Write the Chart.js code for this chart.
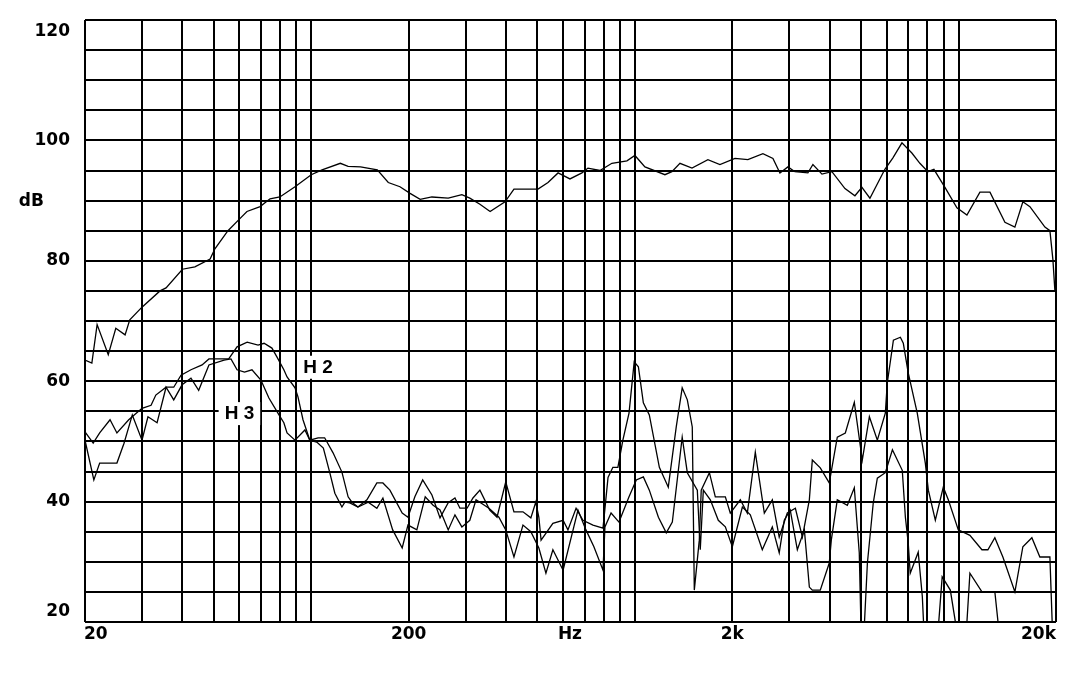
<!DOCTYPE html>
<html lang="en">
<head>
<meta charset="UTF-8">
<title>Frequency response with H2 / H3</title>
<style>
    html, body { margin: 0; padding: 0; background: #fff; }
    #wrap { width: 1077px; height: 678px; position: relative; }
</style>
</head>
<body>
<div id="wrap"><canvas id="myChart"></canvas></div>
<script src="https://cdn.jsdelivr.net/npm/chart.js"></script>
<script>
// SPL curve
const splHz = [20,21,21.8,23.6,24.9,26.6,27.5,30,34.1,35.6,40,43.7,48.7,50.4,55.3,60.2,63.3,69.5,74.6,80,
    89.1,100,108,123,130,142,160,173,188,202,217,236,265,292,309,332,357,397,423,502,
    539,579,630,686,716,780,849,945,1000,1074,1238,1301,1378,1501,1681,1831,2038,2234,2486,2670,
    2806,2970,3122,3424,3548,3784,4062,4457,4784,5028,5323,5920,6269,6684,7173,7594,8042,8392,9076,9884,
    10613,11641,12503,13906,14928,15802,16612,18483,19152,19564,19845];
const splDb = [63.5,63,69.4,64.4,68.8,67.7,70.2,72.3,75,75.5,78.6,79,80.3,82,85,87,88.2,89,90.3,90.6,
    92.3,94.3,95.1,96.2,95.7,95.6,95.1,93,92.3,91.2,90.2,90.6,90.4,91,90.4,89.4,88.2,89.8,91.9,91.9,
    93,94.6,93.6,94.6,95.4,95,96.2,96.6,97.5,95.6,94.3,94.8,96.2,95.4,96.8,96,97,96.8,97.8,97,
    94.6,95.6,94.8,94.6,96,94.4,94.8,92,90.8,92.2,90.4,95.2,97.1,99.6,97.9,96.2,94.8,95.2,92.2,88.8,
    87.6,91.4,91.4,86.4,85.6,89.8,89,85.6,85,80.2,75];

// 2nd harmonic
const h2Hz = [20,21.2,22.2,23.9,25.1,27.3,30,32,33.1,35.6,37.6,39.6,42.5,46,48.3,55.6,59,63.4,68.5,71.5,
    75.6,78.4,82.3,84.2,89.1,91,94.3,99,105,110,116.8,124.4,130,133.6,139.4,148.6,159.5,166.5,175,191,
    199,209,221,236,250,265,278,288,303,316,332,356,375,399,423,451,477,494,505,513,
    558,600,621,658,691,742,797,826,855,886,918,959,995,1025,1062,1108,1190,1268,1342,1400,
    1452,1504,1526,1581,1603,1699,1772,1903,1971,2117,2225,2355,2511,2658,2792,2957,3132,3292,3459,3533,
    3739,3986,4220,4468,4763,5041,5302,5611,5939,6022,6290,6610,6750,6990,7454,7894,8065,8476,8970,9296,
    9980,10840,11808,12319,12945,13706,14930,15800,16845,17833,19150,19550,20000];
const h2Db = [51.6,49.7,51.4,53.6,51.4,53.6,55.5,56,57.7,59,59,61,61.9,62.7,63.7,63.7,65.7,66.5,66,66.3,
    65.5,64,61.9,60.7,58.9,57.4,53.6,50.2,50.6,50.6,48.1,44.9,40.8,39.9,39.1,40.3,43.1,43.1,41.9,38.1,
    37.4,40.8,43.6,41.1,37.3,39.8,40.6,38.9,38.9,40.6,41.9,38.6,37.4,43.3,38.3,38.3,37.3,39.9,37.4,33.6,
    36.4,36.9,35.3,38.9,36.9,36.1,35.6,44,45.7,45.7,50.2,54.7,63.2,62.4,56.4,54.4,45.7,42.4,52.4,58.9,
    56.9,52.4,25.3,33.6,41.9,44.8,40.8,40.8,38.1,40.3,38.1,48.2,38.1,40.3,34.1,38.1,38.9,34.1,40.3,46.9,
    45.6,43.1,50.7,51.4,56.5,46.9,54.1,50.2,54.7,59.7,66.8,67.3,66.3,61.4,54.7,46.4,41.9,36.9,42.4,40.3,
    35.3,34.4,32,32,34,30.8,25,32.5,34,30.8,30.8,17,17];

// 3rd harmonic
const h3Hz = [20,21.3,22.2,25.1,26.4,28,30,31.3,33.4,35.6,37.6,39.9,42.5,44.9,48.3,53.8,56.5,59,62.2,65.6,
    69.9,74,79.5,82.3,84.2,89.1,95.6,99,104,109,114,118.3,124.4,127,131.6,139.4,150,159.5,166.5,178.5,
    191,199,212,225,238,250,265,278,292,309,323,354,380,399,423,451,477,505,531,558,
    600,667,706,747,797,808,844,893,959,1010,1062,1108,1182,1250,1305,1400,1452,1559,1592,1627,
    1710,1810,1903,2000,2148,2273,2475,2658,2792,2894,3020,3176,3339,3459,3533,3739,3986,4044,4220,4532,
    4763,4934,5005,5100,5228,5451,5611,5939,6246,6700,6850,6990,7090,7505,7728,7840,8600,8900,9430,9980,
    10530,10840,11810,12945,13420,20000];
const h3Db = [50.2,43.6,46.4,46.4,49.7,54.4,50.2,54.1,53.1,59,56.9,59.4,60.5,58.5,62.7,63.5,63.7,61.9,61.5,61.9,
    60.2,57.2,54.4,53.1,51.4,50.2,51.9,50.2,49.9,48.9,44.9,41.4,39.1,39.9,39.8,39.1,39.9,38.9,40.6,35.3,
    32.3,36.1,35.3,40.8,39.4,38.6,35.3,37.8,35.8,36.9,40.3,38.9,37.4,35.3,30.8,36.1,35,32.3,28.1,32,
    28.6,38.6,35.3,32.5,28.6,35.8,38.1,36.6,40.8,43.6,44.1,41.9,37.4,34.8,36.6,50.7,44.8,41.9,32,41.9,
    40.3,36.9,35.8,32.5,39.1,37.8,32,35.8,31.5,36.9,38.6,32,35.3,25.8,25.3,25.3,29.8,33.6,40.3,39.4,
    42.3,31.5,17,18,29.8,39.8,43.9,44.8,48.6,45.2,37.4,33.1,28.1,31.6,24.2,17,17,27.5,25.3,17,
    17,28.1,25,25,17,17];

// axes
const gridHz = [20,30,40,50,60,70,80,90,100,200,300,400,500,600,700,800,900,
    1000,2000,3000,4000,5000,6000,7000,8000,9000,10000,20000];
const yTickDb = [20,40,60,80,100,120];
const xTickHz = [20,200,630,2000,20000];
const xTickText = ['20','200','Hz','2k','20k'];
// curve names: text, Hz, dB
const curveLabels = [['H 2',105,62.4],['H 3',60,54.7]];

function pairs(xs, ys) {
    return xs.map(function (v, i) { return { x: v, y: ys[i] }; });
}

const lineStyle = {
    borderColor: '#000',
    borderWidth: 1.3,
    pointRadius: 0,
    tension: 0,
    fill: false
};

// axis texts and the boxed H2/H3 names
const labelPlugin = {
    id: 'labels',
    afterDraw(chart) {
        const c = chart.ctx;
        const sx = chart.scales.x, sy = chart.scales.y;
        const area = chart.chartArea;
        c.save();
        c.fillStyle = '#000';
        c.font = 'bold 17px "DejaVu Sans"';
        c.textBaseline = 'middle';
        c.textAlign = 'right';
        yTickDb.forEach(function (v) {
            let py = sy.getPixelForValue(v);
            py = Math.min(Math.max(py, area.top + 12), area.bottom - 10);
            c.fillText(String(v), 70, py);
        });
        c.fillText('dB', 44, sy.getPixelForValue(90) + 1);
        xTickHz.forEach(function (v, i) {
            const px = sx.getPixelForValue(v);
            c.textAlign = i === 0 ? 'left' : (i === xTickHz.length - 1 ? 'right' : 'center');
            c.fillText(xTickText[i], i === 0 ? px - 1 : px, area.bottom + 13);
        });

        c.font = 'bold 19px "Liberation Sans"';
        c.textAlign = 'center';
        curveLabels.forEach(function (l) {
            const px = sx.getPixelForValue(l[1]);
            const py = sy.getPixelForValue(l[2]);
            const w = c.measureText(l[0]).width + 12;
            c.fillStyle = '#fff';
            c.fillRect(px - w / 2, py - 11, w, 23);
            c.fillStyle = '#000';
            c.fillText(l[0], px, py + 1);
        });
        c.restore();
    }
};

const gridOpts = { color: '#000', lineWidth: 2, drawTicks: false };

new Chart(document.getElementById('myChart'), {
    type: 'line',
    data: {
        datasets: [
            Object.assign({ label: 'SPL', data: pairs(splHz, splDb) }, lineStyle),
            Object.assign({ label: 'H2', data: pairs(h2Hz, h2Db) }, lineStyle),
            Object.assign({ label: 'H3', data: pairs(h3Hz, h3Db) }, lineStyle)
        ]
    },
    options: {
        responsive: true,
        maintainAspectRatio: false,
        animation: false,
        layout: { padding: { left: 85, top: 20, right: 21, bottom: 56 } },
        plugins: { legend: { display: false }, tooltip: { enabled: false } },
        scales: {
            x: {
                type: 'logarithmic',
                min: 20,
                max: 20000,
                afterBuildTicks: function (s) { s.ticks = gridHz.map(function (v) { return { value: v }; }); },
                afterFit: function (s) { s.height = 0; },
                ticks: { display: false, autoSkip: false },
                grid: gridOpts,
                border: { display: false }
            },
            y: {
                min: 20,
                max: 120,
                afterFit: function (s) { s.width = 0; },
                ticks: { display: false, stepSize: 5 },
                grid: gridOpts,
                border: { display: false }
            }
        }
    },
    plugins: [labelPlugin]
});
</script>
</body>
</html>
